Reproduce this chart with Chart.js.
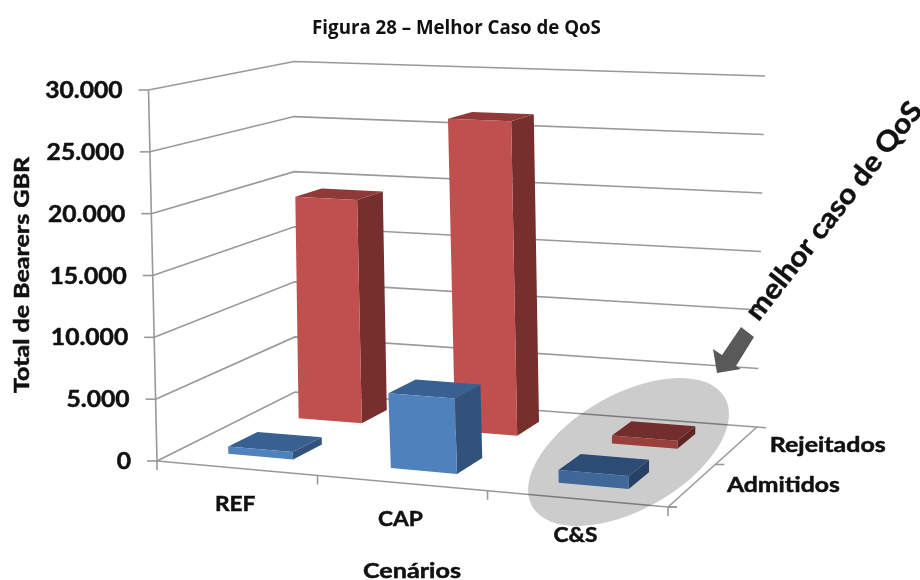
<!DOCTYPE html>
<html>
<head>
<meta charset="utf-8">
<style>
  html, body { margin: 0; padding: 0; background: #fff; }
  canvas { display: block; }
</style>
<script src="https://cdn.jsdelivr.net/npm/chart.js@4/dist/chart.umd.js"></script>
</head>
<body>
<canvas id="chart" width="920" height="580"></canvas>
<script>
const categories = ['REF', 'CAP', 'C&S']
const admitidos = [600, 6000, 1000]
const rejeitados = [19200, 26500, 650]
const seriesNames = ['Admitidos', 'Rejeitados']
const yMax = 30000
const yStep = 5000

// corners of the 3D box on screen: front-left, front-right, back-right, back-left
const FLOOR = [[157, 461], [668, 507], [757, 427], [295, 392]]
const CEILING = [[148.5, 90], [676, 113], [765, 76], [294, 61.5]]
const BAR_FILL = 0.4
const DEPTH_FILL = 0.4
const GRID = '#999'
const TEXT = '#111'
const FONT = 'Lato, sans-serif'

// unit square to quad (perspective)
function quadMap (q) {
  const [[x0, y0], [x1, y1], [x2, y2], [x3, y3]] = q
  const sx = x0 - x1 + x2 - x3
  const sy = y0 - y1 + y2 - y3
  const dx1 = x1 - x2
  const dx2 = x3 - x2
  const dy1 = y1 - y2
  const dy2 = y3 - y2
  const den = dx1 * dy2 - dx2 * dy1
  const g = (sx * dy2 - dx2 * sy) / den
  const h = (dx1 * sy - sx * dy1) / den
  const a = x1 - x0 + g * x1
  const b = x3 - x0 + h * x3
  const d = y1 - y0 + g * y1
  const e = y3 - y0 + h * y3
  return (u, v) => {
    const w = g * u + h * v + 1
    return [(a * u + b * v + x0) / w, (d * u + e * v + y0) / w]
  }
}

const floorAt = quadMap(FLOOR)
const ceilingAt = quadMap(CEILING)

function project (u, v, h) {
  // the picture is flatter towards the back than a true perspective
  const uw = u + 6.75 * u * (1 - u) * (1 - u) * 0.02 * Math.sqrt(v)
  const f = floorAt(uw, v)
  const c = ceilingAt(uw, v)
  return [f[0] + (c[0] - f[0]) * h, f[1] + (c[1] - f[1]) * h]
}

function poly (ctx, pts, fill) {
  ctx.beginPath()
  pts.forEach((p, i) => (i ? ctx.lineTo(p[0], p[1]) : ctx.moveTo(p[0], p[1])))
  ctx.closePath()
  ctx.fillStyle = fill
  ctx.fill()
}

function line (ctx, a, b, dx, dy) {
  ctx.beginPath()
  ctx.moveTo(a[0], a[1])
  ctx.lineTo(b ? b[0] : a[0] + dx, b ? b[1] : a[1] + dy)
  ctx.stroke()
}

function label (ctx, text, x, y, size, opts = {}) {
  ctx.save()
  ctx.translate(x, y)
  if (opts.angle) ctx.rotate(opts.angle)
  ctx.font = 'bold ' + size + 'px ' + FONT
  ctx.textAlign = opts.align || 'center'
  ctx.textBaseline = 'middle'
  ctx.fillStyle = TEXT
  ctx.strokeStyle = TEXT
  ctx.lineWidth = 0.5
  const sx = opts.width ? opts.width / ctx.measureText(text).width : (opts.stretch || 1)
  ctx.scale(sx, 1)
  ctx.fillText(text, 0, 0)
  ctx.strokeText(text, 0, 0)
  ctx.restore()
}

const box3d = {
  id: 'box3d',
  beforeDatasetsDraw (chart) {
    const ctx = chart.ctx
    const x = chart.scales.x
    const y = chart.scales.y
    const toH = px => (y.bottom - px) / (y.bottom - y.top)

    // walls
    ctx.save()
    ctx.strokeStyle = GRID
    ctx.lineWidth = 1.6
    y.ticks.forEach(t => {
      const h = toH(y.getPixelForValue(t.value))
      const a = project(0, 0, h)
      const b = project(0, 1, h)
      const c = project(t.value === 0 ? 1.018 : 1, 1, h)
      ctx.beginPath()
      ctx.moveTo(a[0], a[1])
      ctx.lineTo(b[0], b[1])
      ctx.lineTo(c[0], c[1])
      ctx.stroke()
      line(ctx, a, null, -10, 0)
      label(ctx, t.label, a[0] - 26, a[1] + 1, 22, { stretch: 1.12, align: 'right' })
    })
    line(ctx, project(0, 0, 0), project(0, 0, 1))

    // floor edges and ticks
    line(ctx, project(0, 0, 0), project(1, 0, 0))
    line(ctx, project(1, 0, 0), project(1, 1, 0))
    categories.forEach((c, i) => {
      line(ctx, project(i / categories.length, 0, 0), null, 0, 9)
      const p = project((x.getPixelForValue(i) - x.left) / x.width, 0, 0)
      label(ctx, c, p[0] - 1, p[1] + 36, 21, { stretch: 1.08 })
    })
    line(ctx, project(1, 0, 0), null, 0, 9)
    line(ctx, project(1, 0, 0), null, 9, 0)
    seriesNames.forEach((s, i) => {
      line(ctx, project(1, i / seriesNames.length, 0), null, 9, 0)
      const p = project(1, (i + 0.5) / seriesNames.length, 0)
      label(ctx, s, p[0] + 91, p[1] + 0, 21, { width: s === 'Admitidos' ? 113 : 116 })
    })
    ctx.restore()

    // bars, back row first so the front row covers it
    for (let d = chart.data.datasets.length - 1; d >= 0; d--) {
      const ds = chart.data.datasets[d]
      const n = chart.data.datasets.length
      const v0 = (d + 0.5 - DEPTH_FILL / 2) / n
      const v1 = (d + 0.5 + DEPTH_FILL / 2) / n
      chart.getDatasetMeta(d).data.forEach(bar => {
        const u0 = (bar.x - bar.width / 2 - x.left) / x.width
        const u1 = (bar.x + bar.width / 2 - x.left) / x.width
        const h = toH(bar.y)
        poly(ctx, [project(u1, v0, 0), project(u1, v1, 0), project(u1, v1, h), project(u1, v0, h)], ds.sideColor)
        poly(ctx, [project(u0, v0, h), project(u1, v0, h), project(u1, v1, h), project(u0, v1, h)], ds.topColor)
        poly(ctx, [project(u0, v0, 0), project(u1, v0, 0), project(u1, v0, h), project(u0, v0, h)], ds.backgroundColor)
      })
    }

    // highlight over the C&S bars
    ctx.save()
    ctx.beginPath()
    ctx.ellipse(628.5, 452, 110.7, 57.7, -29.4 * Math.PI / 180, 0, Math.PI * 2)
    ctx.fillStyle = 'rgba(0, 0, 0, 0.2)'
    ctx.fill()
    ctx.restore()

    // arrow and note
    poly(ctx, [[741, 327], [754, 337], [736, 366], [741, 369], [717, 373], [713, 349], [722, 355]], '#595959')
    label(ctx, 'melhor caso de QoS', 834, 211, 28, { width: 268, angle: -52 * Math.PI / 180 })

    // axis titles
    label(ctx, 'Total de Bearers GBR', 22, 275, 21, { width: 236, angle: -Math.PI / 2 })
    label(ctx, 'Cenários', 412, 571, 21, { width: 98 })
    return false
  }
}

new Chart(document.getElementById('chart'), {
  type: 'bar',
  data: {
    labels: categories,
    datasets: [
      { label: seriesNames[0], data: admitidos, backgroundColor: '#4f81bd', topColor: '#386090', sideColor: '#30527d' },
      { label: seriesNames[1], data: rejeitados, backgroundColor: '#c0504d', topColor: '#8f3a38', sideColor: '#772f2d' }
    ]
  },
  options: {
    responsive: false,
    animation: false,
    layout: { padding: { left: 148, right: 155, top: 0, bottom: 119 } },
    datasets: { bar: { grouped: false, barPercentage: BAR_FILL, categoryPercentage: 1 } },
    scales: {
      x: { display: false },
      y: {
        display: false,
        min: 0,
        max: yMax,
        ticks: {
          stepSize: yStep,
          callback: v => String(v).replace(/\B(?=(\d{3})+$)/g, '.')
        }
      }
    },
    plugins: {
      legend: { display: false },
      tooltip: { enabled: false },
      title: {
        display: true,
        text: 'Figura 28 – Melhor Caso de QoS',
        color: '#111',
        font: { family: '"Open Sans", sans-serif', size: 18.7, weight: 'bold' },
        padding: { top: 17, bottom: 50.6 }
      }
    }
  },
  plugins: [box3d]
})
</script>
</body>
</html>
